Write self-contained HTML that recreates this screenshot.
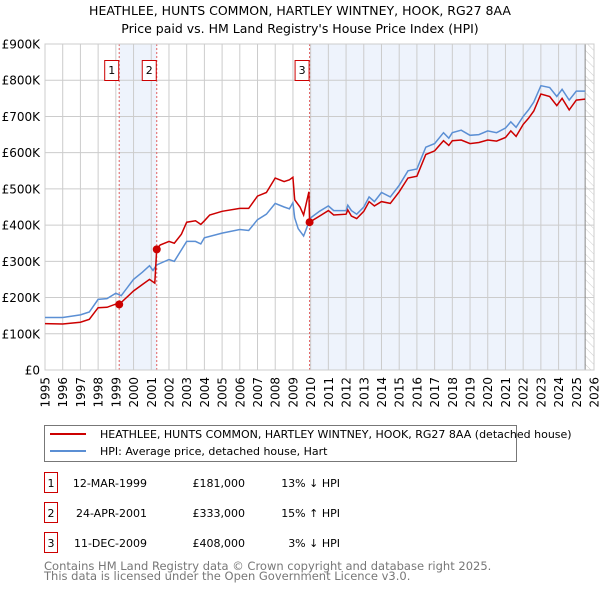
<!DOCTYPE html>
<html><head><meta charset="utf-8"><style>
body{margin:0;background:#fff;}
svg{display:block;font-family:"DejaVu Sans","Liberation Sans",sans-serif;}
</style></head><body>
<svg id="c" width="600" height="590" viewBox="0 0 600 590">
<text x="300" y="15" text-anchor="middle" font-size="12.5">HEATHLEE, HUNTS COMMON, HARTLEY WINTNEY, HOOK, RG27 8AA</text>
<text x="300" y="33" text-anchor="middle" font-size="12.5">Price paid vs. HM Land Registry's House Price Index (HPI)</text>
<defs><pattern id="hatch" width="6" height="6" patternUnits="userSpaceOnUse" patternTransform="rotate(-45)"><line x1="0" y1="0" x2="0" y2="6" stroke="#ccc" stroke-width="1"/></pattern></defs>
<g id="shade"></g><g id="grid"></g><g id="axes"></g><g id="series"></g><g id="marks"></g>
<g>
<rect x="44.5" y="425.5" width="472" height="36" fill="#fff" stroke="#777"/>
<line x1="50" y1="434" x2="86" y2="434" stroke="#cc0000" stroke-width="2"/>
<text x="100" y="438" font-size="11">HEATHLEE, HUNTS COMMON, HARTLEY WINTNEY, HOOK, RG27 8AA (detached house)</text>
<line x1="50" y1="451" x2="86" y2="451" stroke="#5b8fd4" stroke-width="2"/>
<text x="100" y="455" font-size="11">HPI: Average price, detached house, Hart</text>
</g>
<g id="table" font-size="11"></g>
<text x="44" y="570" font-size="11.5" fill="#777">Contains HM Land Registry data © Crown copyright and database right 2025.</text>
<text x="44" y="580" font-size="11.5" fill="#777">This data is licensed under the Open Government Licence v3.0.</text>
</svg>
<script>
const hpiT=[1995,1996,1997,1997.5,1998,1998.5,1999,1999.3,2000,2000.5,2000.9,2001.1,2001.3,2002,2002.3,2003,2003.5,2003.8,2004,2005,2006,2006.5,2007,2007.5,2008,2008.5,2008.8,2009,2009.1,2009.3,2009.6,2010,2010.5,2011,2011.3,2012,2012.1,2012.3,2012.6,2013,2013.3,2013.6,2014,2014.5,2015,2015.5,2016,2016.5,2017,2017.5,2017.8,2018,2018.5,2019,2019.5,2020,2020.5,2021,2021.3,2021.6,2022,2022.3,2022.6,2023,2023.5,2023.9,2024.2,2024.6,2025,2025.5];
const hpiV=[145,145,152,160,195,197,212,205,250,270,288,275,290,305,300,355,355,348,365,378,388,385,415,430,460,450,445,462,420,390,370,420,438,453,440,440,455,440,430,450,478,465,490,478,510,550,555,615,625,655,640,655,662,648,650,660,655,668,685,670,700,718,740,785,780,755,775,745,770,770];
const ppT=[1995,1996,1997,1997.5,1998,1998.5,1999,1999.19,2000,2000.5,2000.9,2001.2,2001.31,2001.5,2002,2002.3,2002.7,2003,2003.5,2003.8,2004,2004.3,2005,2006,2006.5,2007,2007.5,2008,2008.5,2008.8,2009,2009.1,2009.4,2009.6,2009.9,2009.94,2010.5,2011,2011.3,2012,2012.1,2012.3,2012.6,2013,2013.3,2013.6,2014,2014.5,2015,2015.5,2016,2016.5,2017,2017.5,2017.8,2018,2018.5,2019,2019.5,2020,2020.5,2021,2021.3,2021.6,2022,2022.3,2022.6,2023,2023.5,2023.9,2024.2,2024.6,2025,2025.5];
const ppV=[128,127,132,140,172,173,182,181,218,236,250,240,333,345,355,350,375,408,412,402,412,428,438,446,446,480,490,530,520,525,532,470,450,428,492,408,425,440,428,430,442,425,418,438,465,453,465,460,492,530,535,595,605,633,620,633,635,625,628,635,632,642,660,645,678,695,715,762,755,730,750,718,745,748];
const saleT=[1999.19,2001.31,2009.94];
const saleV=[181,333,408];
const saleLabels=["1","2","3"];
const saleDates=["12-MAR-1999","24-APR-2001","11-DEC-2009"];
const salePrices=["£181,000","£333,000","£408,000"];
const saleHpi=["13% ↓ HPI","15% ↑ HPI","3% ↓ HPI"];
const yTicks=[0,100,200,300,400,500,600,700,800,900];
const yLabels=["£0","£100K","£200K","£300K","£400K","£500K","£600K","£700K","£800K","£900K"];
const xTicks=[1995,1996,1997,1998,1999,2000,2001,2002,2003,2004,2005,2006,2007,2008,2009,2010,2011,2012,2013,2014,2015,2016,2017,2018,2019,2020,2021,2022,2023,2024,2025,2026];
const dataEnd=2025.5;

const L=45,R=594,T=44,B=370,x0=1995,x1=2026,ymax=900;
const X=t=>L+(t-x0)/(x1-x0)*(R-L);
const Y=v=>B-v/ymax*(B-T);
const NS="http://www.w3.org/2000/svg";
function mk(tag,parent,attrs){const e=document.createElementNS(NS,tag);for(const k in attrs)e.setAttribute(k,attrs[k]);document.getElementById(parent).appendChild(e);return e;}

let e;
e=mk('rect','shade',{x:L,y:T,width:R-L,height:B-T,fill:'#fff',stroke:'none'});


e=mk('rect','shade',{x:X(saleT[0]),y:T,width:X(saleT[1])-X(saleT[0]),height:B-T,fill:'#eef3fc'});


e=mk('rect','shade',{x:X(saleT[2]),y:T,width:X(dataEnd)-X(saleT[2]),height:B-T,fill:'#eef3fc'});


e=mk('rect','shade',{x:X(dataEnd),y:T,width:R-X(dataEnd),height:B-T,fill:'url(#hatch)'});



yTicks.forEach((v,i)=>{
 e=mk('line','grid',{x1:L,x2:R,y1:Y(v),y2:Y(v),stroke:'#ccc','stroke-width':1});
 
 
 e=mk('text','axes',{x:L-5,y:Y(v)+4.5,'text-anchor':'end','font-size':12});
 e.textContent=yLabels[i];
 
 
});
xTicks.forEach(t=>{
 e=mk('line','grid',{x1:X(t),x2:X(t),y1:T,y2:B,stroke:'#ccc','stroke-width':1});
 
 
 e=mk('text','axes',{x:0,y:0,'text-anchor':'end','font-size':12,transform:`translate(${X(t)+4.5},${B+7}) rotate(-90)`});
 e.textContent=t;
 
 
});
e=mk('line','grid',{x1:X(dataEnd),x2:X(dataEnd),y1:T,y2:B,stroke:'#888','stroke-width':1});



saleT.forEach((t,i)=>{
 e=mk('line','grid',{x1:X(t),x2:X(t),y1:T,y2:B,stroke:'#e06060','stroke-width':1,'stroke-dasharray':'2,2'});
 
 
});

function path(ts,vs){return ts.map((t,i)=>(i?'L':'M')+X(t).toFixed(1)+','+Y(vs[i]).toFixed(1)).join('');}
e=mk('path','series',{d:path(hpiT,hpiV),fill:'none',stroke:'#5b8fd4','stroke-width':1.5});


e=mk('path','series',{d:path(ppT,ppV),fill:'none',stroke:'#cc0000','stroke-width':1.5});



saleT.forEach((t,i)=>{
 e=mk('circle','marks',{cx:X(t),cy:Y(saleV[i]),r:4,fill:'#cc0000'});
 
 
 e=mk('rect','marks',{x:X(t)-14.5,y:60.5,width:14,height:20,fill:'#fff',stroke:'#cc0000'});
 
 
 e=mk('text','marks',{x:X(t)-7.5,y:74,'text-anchor':'middle','font-size':11});
 e.textContent=saleLabels[i];
 
 
 const ry=483+i*30;
 e=mk('rect','table',{x:44.5,y:ry-10.5,width:13,height:20,fill:'#fff',stroke:'#cc0000'});
 
 
 e=mk('text','table',{x:51,y:ry+4,'text-anchor':'middle'});
 e.textContent=saleLabels[i];
 
 
 e=mk('text','table',{x:147,y:ry+4,'text-anchor':'end'});
 e.textContent=saleDates[i];
 
 
 e=mk('text','table',{x:245,y:ry+4,'text-anchor':'end'});
 e.textContent=salePrices[i];
 
 
 e=mk('text','table',{x:340,y:ry+4,'text-anchor':'end'});
 e.textContent=saleHpi[i];
 
 
});
e=mk('rect','axes',{x:L,y:T,width:R-L,height:B-T,fill:'none',stroke:'#ccc'});


</script>
</body></html>
